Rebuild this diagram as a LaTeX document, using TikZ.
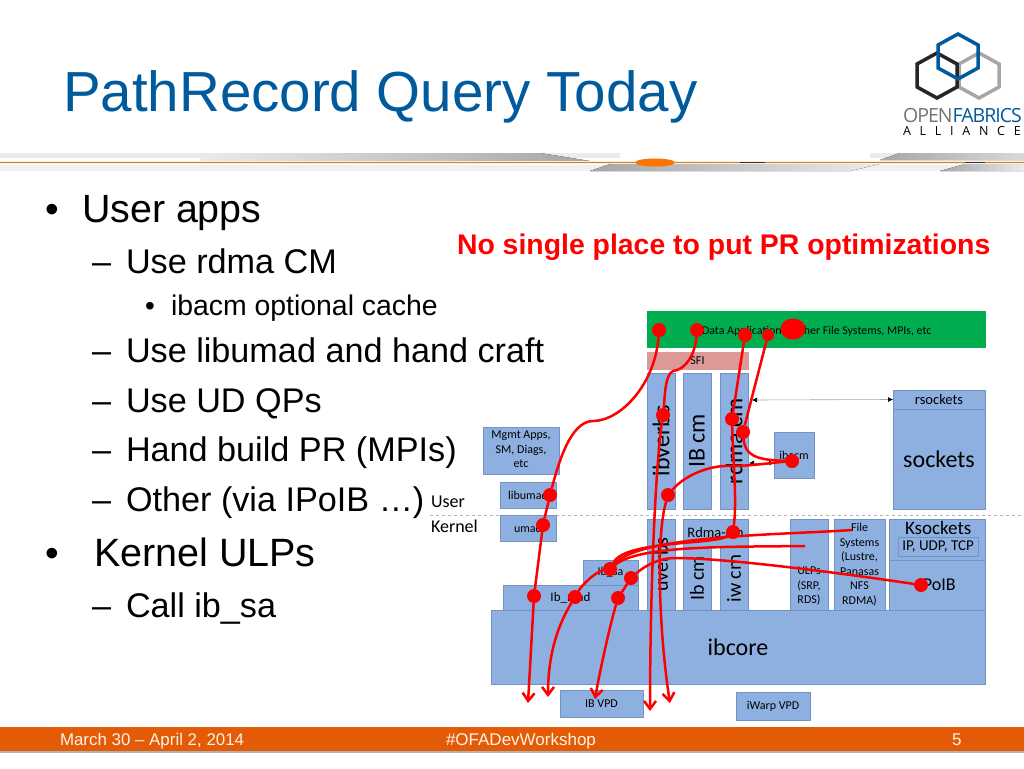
\documentclass[tikz,border=0pt]{standalone}
\usepackage{fontspec}
\setmainfont{Liberation Sans}
\newfontfamily\boxfont{Carlito}
\usetikzlibrary{arrows.meta, shapes.geometric}
\definecolor{ofablue}{HTML}{005A9C}
\definecolor{boxblue}{HTML}{8EB0E0}
\definecolor{boxline}{HTML}{7393C2}
\definecolor{appgreen}{HTML}{00AE50}
\definecolor{sfipink}{HTML}{DB9A98}
\definecolor{barorange}{HTML}{E35B06}
\tikzset{
  >={Straight Barb[length=8pt,width=12pt,line width=2.5pt]},
  txt/.style={inner sep=0pt, outer sep=0pt, anchor=base west, font=\fontsize{#1}{#1}\selectfont},
  box/.style 2 args={draw=boxline, line width=.6pt, fill=boxblue, inner sep=0pt, outer sep=0pt,
    anchor=north west, minimum width=#1, minimum height=#2, align=center, font=\boxfont\fontsize{12}{14.5}\selectfont},
  vbox/.style 2 args={draw=boxline, line width=.6pt, fill=boxblue, inner sep=0pt, outer sep=0pt,
    rotate=90, minimum width=#1, minimum height=#2, font=\boxfont\fontsize{24}{24}\selectfont},
  dot/.style={circle, fill=red, inner sep=0pt, outer sep=0pt, minimum size=14pt},
  wire/.style={draw=red, line width=2.5pt},
  thin arrow/.style={draw=black!35, line width=.6pt, {Latex[length=5pt,width=5pt,black]}-{Latex[length=5pt,width=5pt,black]}},
}
\begin{document}
\begin{tikzpicture}[x=1pt, y=-1pt]
  \useasboundingbox (0,0) rectangle (1024,768);
  % header strip
  \fill[black!8] (0,153) rectangle (1024,158);
  \fill[black!6] (0,165) rectangle (1024,171);
  \fill[left color=black!8, right color=black!35] (200,153) -- (540,153) -- (590,161) -- (200,161) -- cycle;
  \fill[white] (620,153) rectangle (870,160);
  \fill[left color=black!35, right color=black!8] (590,171) -- (610,164) -- (880,164) -- (850,171) -- cycle;
  \fill[left color=black!35, right color=black!15] (880,160) -- (900,153) -- (1024,153) -- (1024,160) -- cycle;
  \fill[left color=black!35, right color=black!8] (940,171) -- (965,164) -- (1024,164) -- (1024,171) -- cycle;
  \fill[orange!15] (0,161) rectangle (1024,164);
  \draw[draw=brown!80!orange, line width=1pt] (0,162.5) -- (1024,162.5);
  \fill[orange!90!red] (655,162.5) ellipse (20pt and 4pt);
  \draw[black!80, line width=1pt] (740,162.5) -- (765,162.5) (965,162.5) -- (985,162.5);
  % footer
  \fill[black!30] (0,751) rectangle (1024,753);
  \fill[barorange] (0,727) rectangle (1024,751);
  % logo
  \draw[black!35, line width=3.5pt, line join=miter] (979,53) -- (999,64) -- (999,87) -- (979,98) -- (959,87) -- (959,64) -- cycle;
  \draw[black!85, line width=3.5pt] (937,53) -- (957,64) -- (957,87) -- (937,98) -- (917,87) -- (917,64) -- cycle;
  \draw[ofablue, line width=3.5pt] (958,34) -- (978,45) -- (978,68) -- (958,79) -- (938,68) -- (938,45) -- cycle;
  \node[txt=19.5] (logotop) at (903,122) {\fontspec{Open Sans}\addfontfeature{LetterSpace=-5}\textcolor{black!55}{OPEN}\textcolor{ofablue}{FABRICS}};
  \node[txt=12.5] (logobottom) at (903,135) {\fontspec{Open Sans}\addfontfeature{LetterSpace=70}ALLIANCE};
  % slide text
  \node[txt=56.5, text=ofablue] (title) at (63,111) {PathRecord Query Today};
  \node[txt=39] (b1) at (45,222) {•};
  \node[txt=39.4] (t1) at (82,222) {User apps};
  \node[txt=34.2] (d2) at (92,273) {–};
  \node[txt=34.2] (t2) at (126,273) {Use rdma CM};
  \node[txt=28] (b3) at (145,315) {•};
  \node[txt=28.4] (t3) at (171,315) {ibacm optional cache};
  \node[txt=34.2] (d4) at (92,362) {–};
  \node[txt=34.2] (t4) at (126,362) {Use libumad and hand craft};
  \node[txt=34.2] (d5) at (92,412) {–};
  \node[txt=34.2] (t5) at (126,412) {Use UD QPs};
  \node[txt=34.2] (d6) at (92,461) {–};
  \node[txt=34.2] (t6) at (126,461) {Hand build PR (MPIs)};
  \node[txt=34.2] (d7) at (92,511) {–};
  \node[txt=34.2] (t7) at (126,511) {Other (via IPoIB …)};
  \node[txt=39] (b8) at (45,566) {•};
  \node[txt=39.5] (t8) at (94,566) {Kernel ULPs};
  \node[txt=34.2] (d9) at (92,617) {–};
  \node[txt=34.2] (t9) at (126,617) {Call ib\_sa};
  \node[txt=27.5, text=red, font=\bfseries\fontsize{28.4}{28.4}\selectfont] (nosingle) at (457,254) {No single place to put PR optimizations};
  \node[txt=18, font=\boxfont\fontsize{18}{18}\selectfont] (user) at (431,507) {User};
  \node[txt=18, font=\boxfont\fontsize{18}{18}\selectfont] (kernel) at (431,532) {Kernel};
  \node[txt=16.9, text=white!90!orange] (date) at (60,745) {March 30 – April 2, 2014};
  \node[txt=17, text=white!90!orange] (tag) at (446,745) {\#OFADevWorkshop};
  \node[txt=17, text=white!90!orange] (page) at (952,745) {5};
  % stack boxes, user side
  \node[box={338pt}{36pt}, draw=appgreen, fill=appgreen] (apps) at (647,311) {};
  \node[txt=12, font=\boxfont\fontsize{11.9}{12}\selectfont] (appstext) at (702,334) {Data Applications, Other File Systems, MPIs, etc};
  \node[box={101pt}{17pt}, draw=sfipink, fill=sfipink] (sfi) at (647,352) {SFI};
  \node[vbox={136pt}{28pt}] (ibverbs) at (661,441) {ibverbs};
  \node[vbox={136pt}{28pt}] (ibcm) at (697,441) {IB cm};
  \node[vbox={136pt}{28pt}] (rdmacm) at (734,441) {rdma cm};
  \node[box={40pt}{46pt}] (ibacm) at (774,432) {ibacm};
  \node[box={92pt}{19pt}] (rsockets) at (893,390) {\fontsize{14.5}{14.5}\selectfont rsockets};
  \node[box={92pt}{100pt}, font=\boxfont\fontsize{24}{24}\selectfont] (sockets) at (893,409) {sockets};
  \node[box={76pt}{47pt}] (mgmt) at (483,427) {\\[-8.5pt]Mgmt Apps,\\SM, Diags,\\etc};
  \node[box={56pt}{26pt}] (libumad) at (500,482) {libumad};
  \draw[black!30, dashed, line width=.5pt] (430,515) -- (1024,515);
  % stack boxes, kernel side
  \node[box={56pt}{26pt}] (umad) at (500,515) {umad};
  \node[vbox={91pt}{28pt}, font=\boxfont\fontsize{20}{20}\selectfont] (uverbs) at (661,564.5) {uverbs};
  \node[box={65pt}{28pt}, font=\boxfont\fontsize{14.5}{14.5}\selectfont] (rdmacmk) at (683,519) {Rdma-cm};
  \node[vbox={63pt}{28pt}, font=\boxfont\fontsize{20}{20}\selectfont] (ibcmk) at (697,578.5) {Ib cm};
  \node[vbox={63pt}{28pt}, font=\boxfont\fontsize{20}{20}\selectfont] (iwcm) at (734,578.5) {iw cm};
  \node[box={38pt}{91pt}] (ulps) at (790,519) {\\[36.5pt]ULPs\\(SRP,\\RDS)};
  \node[box={51pt}{91pt}] (filesys) at (834,519) {File\\Systems\\(Lustre,\\Panasas\\NFS\\RDMA)};
  \node[box={96pt}{41pt}] (ksockets) at (889,519) {};
  \node[txt=19, font=\boxfont\fontsize{19}{19}\selectfont] (ksocktext) at (905,534) {Ksockets};
  \node[box={80pt}{19pt}, font=\boxfont\fontsize{15}{15}\selectfont] (ipudptcp) at (898,537) {IP, UDP, TCP};
  \node[box={96pt}{50pt}, font=\boxfont\fontsize{18}{18}\selectfont] (ipoib) at (889,560) {IPoIB};
  \node[box={55pt}{25pt}] (ibsa) at (583,560) {Ib\_sa};
  \node[box={135pt}{25pt}, font=\boxfont\fontsize{13}{13}\selectfont] (ibmad) at (503,585) {Ib\_mad};
  \node[box={494pt}{74pt}, font=\boxfont\fontsize{24}{24}\selectfont] (ibcore) at (491,610) {ibcore};
  \node[box={83pt}{27pt}] (ibvpd) at (560,690) {IB VPD};
  \node[box={74pt}{28pt}] (iwarpvpd) at (736,692) {iWarp VPD};
  \draw[thin arrow] (rsockets.west) -- (752,400);
  \coordinate (acmleft) at (749,463);
  \draw[thin arrow] (acmleft) -- (ibacm.west |- acmleft);
  % red dots
  \node[dot] (r1) at (659,330) {};
  \node[dot] (r2) at (697,330) {};
  \node[dot] (r3) at (745,335) {};
  \node[dot, minimum size=12pt] (r4) at (768,335) {};
  \node[dot, ellipse, minimum width=25pt, minimum height=21pt] (r5) at (793,329) {};
  \node[dot] (r6) at (663,415) {};
  \node[dot] (r7) at (732,419) {};
  \node[dot] (r8) at (743,432) {};
  \node[dot] (r9) at (792,461) {};
  \node[dot] (r10) at (668,495) {};
  \node[dot] (r11) at (550,495) {};
  \node[dot] (r12) at (543,525) {};
  \node[dot] (r13) at (733,532) {};
  \node[dot] (r14) at (610,569) {};
  \node[dot] (r15) at (631,578) {};
  \node[dot] (r16) at (534,596) {};
  \node[dot] (r17) at (575,597) {};
  \node[dot] (r18) at (618,598) {};
  \node[dot] (r19) at (921,585) {};
  \coordinate (e1) at (528,703);
  \coordinate (e2) at (548,697);
  \coordinate (e3) at (595,699);
  \coordinate (e4) at (650,711);
  \coordinate (e5) at (670,703);
  \coordinate (e6) at (852,530);
  \coordinate (e7) at (805,546);
  % red wires
  \draw[wire] (r1) .. controls (655,385) and (620,421) .. (593,421) .. controls (570,421) and (558,465) .. (r11);
  \draw[wire] (r11) -- (r12) -- (r16);
  \draw[wire, ->] (r16) -- (e1);
  \draw[wire] (r2) .. controls (695,355) and (685,370) .. (673,371) .. controls (665,375) and (665,395) .. (r6);
  \draw[wire, ->] (r6) .. controls (655,470) and (650,600) .. (e4);
  \draw[wire] (r10) .. controls (685,475) and (710,465) .. (730,466) .. controls (750,466) and (770,463) .. (r9);
  \draw[wire, ->] (r10) .. controls (655,540) and (660,640) .. (e5);
  \draw[wire] (r4) -- (r8);
  \draw[wire] (r8) .. controls (745,455) and (755,460) .. (r9);
  \draw[wire] (r3) -- (r7);
  \draw[wire] (r7) .. controls (733,460) and (737,500) .. (r13);
  \draw[wire] (r13) .. controls (715,545) and (625,540) .. (r14);
  \draw[wire] (e6) .. controls (780,535) and (640,535) .. (r14);
  \draw[wire] (e7) .. controls (730,547) and (640,545) .. (r14);
  \draw[wire] (r14) .. controls (595,572) and (582,585) .. (r17);
  \draw[wire, ->] (r17) .. controls (555,630) and (548,660) .. (e2);
  \draw[wire] (r19) .. controls (820,570) and (720,558) .. (675,558) .. controls (655,558) and (640,570) .. (r15);
  \draw[wire] (r15) -- (r18);
  \draw[wire, ->] (r18) .. controls (610,625) and (600,670) .. (e3);
\end{tikzpicture}
\end{document}
